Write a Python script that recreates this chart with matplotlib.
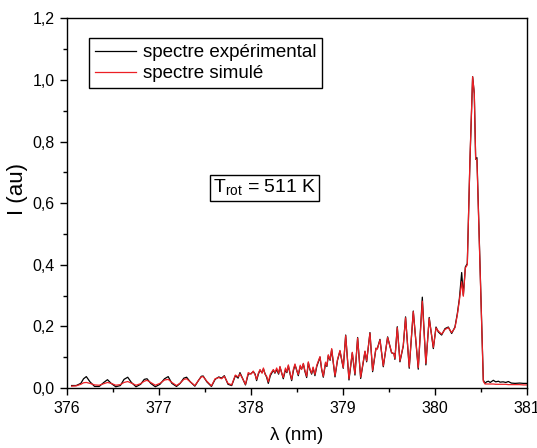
import matplotlib
matplotlib.use("Agg")
import matplotlib.pyplot as plt
from matplotlib.ticker import MultipleLocator, FuncFormatter

plt.rcParams['font.family'] = ['Liberation Sans', 'DejaVu Sans']
plt.rcParams['mathtext.fontset'] = 'custom'
plt.rcParams['mathtext.rm'] = 'Liberation Sans'

# wavelength grid (nm)
lam = [376.05, 376.10, 376.15, 376.18, 376.21, 376.25, 376.30, 376.35, 376.40, 376.44,
       376.48, 376.53, 376.58, 376.62, 376.66, 376.70, 376.75, 376.80, 376.84, 376.87,
       376.91, 376.96, 377.01, 377.06, 377.10, 377.14, 377.19, 377.23, 377.27, 377.30,
       377.34, 377.39, 377.43, 377.46, 377.48, 377.52, 377.57, 377.61, 377.65, 377.68,
       377.71, 377.75, 377.79, 377.83, 377.86, 377.88, 377.91, 377.94, 377.97, 378.00,
       378.025, 378.045, 378.061, 378.08, 378.098, 378.12, 378.135, 378.152, 378.17, 378.188,
       378.21, 378.243, 378.26, 378.279, 378.30, 378.315, 378.333, 378.351, 378.375, 378.39,
       378.406, 378.425, 378.442, 378.46, 378.478, 378.495, 378.514, 378.535, 378.55, 378.569,
       378.585, 378.605, 378.623, 378.64, 378.659, 378.675, 378.695, 378.715, 378.732, 378.75,
       378.768, 378.786, 378.81, 378.825, 378.84, 378.86, 378.877, 378.895, 378.913, 378.94,
       378.967, 379.003, 379.029, 379.065, 379.101, 379.13, 379.159, 379.192, 379.239, 379.257,
       379.293, 379.322, 379.358, 379.373, 379.402, 379.438, 379.485, 379.528, 379.554, 379.564,
       379.59, 379.619, 379.655, 379.68, 379.72, 379.764, 379.818, 379.862, 379.901, 379.937,
       379.982, 380.011, 380.036, 380.072, 380.109, 380.145, 380.181, 380.217, 380.243, 380.265,
       380.29, 380.308, 380.33, 380.351, 380.38, 380.409, 380.427, 380.442, 380.456, 380.525,
       380.543, 380.56, 380.58, 380.60, 380.634, 380.66, 380.69, 380.707, 380.74, 380.77,
       380.797, 380.83, 380.87, 380.92, 380.96, 381.0]

# experimental spectrum
I_exp = [0.008, 0.008, 0.015, 0.030, 0.037, 0.020, 0.005, 0.005, 0.018, 0.027,
         0.015, 0.004, 0.008, 0.028, 0.035, 0.018, 0.004, 0.012, 0.028, 0.030,
         0.015, 0.004, 0.012, 0.030, 0.037, 0.015, 0.005, 0.015, 0.032, 0.035,
         0.020, 0.006, 0.025, 0.038, 0.039, 0.020, 0.005, 0.028, 0.036, 0.032,
         0.040, 0.012, 0.008, 0.040, 0.032, 0.050, 0.030, 0.010, 0.045, 0.047,
         0.053, 0.045, 0.024, 0.045, 0.058, 0.050, 0.062, 0.047, 0.035, 0.015,
         0.040, 0.058, 0.048, 0.060, 0.045, 0.068, 0.050, 0.030, 0.060, 0.050,
         0.072, 0.045, 0.024, 0.055, 0.075, 0.060, 0.040, 0.070, 0.062, 0.078,
         0.055, 0.034, 0.082, 0.060, 0.045, 0.065, 0.040, 0.070, 0.085, 0.100,
         0.060, 0.035, 0.080, 0.070, 0.105, 0.090, 0.125, 0.080, 0.036, 0.090,
         0.120, 0.064, 0.172, 0.026, 0.114, 0.042, 0.164, 0.031, 0.118, 0.085,
         0.180, 0.053, 0.128, 0.128, 0.158, 0.069, 0.166, 0.114, 0.112, 0.093,
         0.199, 0.085, 0.136, 0.231, 0.064, 0.250, 0.061, 0.295, 0.075, 0.229,
         0.128, 0.198, 0.182, 0.172, 0.193, 0.198, 0.177, 0.198, 0.242, 0.290,
         0.375, 0.301, 0.393, 0.404, 0.738, 1.011, 0.957, 0.743, 0.748, 0.026,
         0.015, 0.020, 0.022, 0.018, 0.025, 0.020, 0.022, 0.019, 0.020, 0.018,
         0.021, 0.016, 0.015, 0.016, 0.015, 0.015]

# simulated spectrum
I_sim = [0.006, 0.007, 0.012, 0.017, 0.018, 0.015, 0.010, 0.009, 0.014, 0.018,
         0.015, 0.009, 0.011, 0.018, 0.021, 0.016, 0.009, 0.014, 0.022, 0.025,
         0.018, 0.009, 0.015, 0.026, 0.028, 0.018, 0.008, 0.016, 0.028, 0.030,
         0.020, 0.008, 0.025, 0.036, 0.037, 0.022, 0.007, 0.030, 0.034, 0.030,
         0.038, 0.015, 0.010, 0.042, 0.036, 0.046, 0.030, 0.012, 0.050, 0.045,
         0.055, 0.042, 0.028, 0.048, 0.060, 0.048, 0.065, 0.045, 0.038, 0.020,
         0.045, 0.060, 0.050, 0.065, 0.048, 0.070, 0.048, 0.034, 0.065, 0.052,
         0.075, 0.048, 0.028, 0.060, 0.078, 0.058, 0.044, 0.074, 0.060, 0.080,
         0.058, 0.038, 0.085, 0.062, 0.048, 0.068, 0.044, 0.074, 0.088, 0.102,
         0.062, 0.038, 0.084, 0.072, 0.108, 0.092, 0.128, 0.082, 0.040, 0.092,
         0.122, 0.066, 0.170, 0.030, 0.116, 0.046, 0.162, 0.035, 0.120, 0.088,
         0.178, 0.057, 0.130, 0.126, 0.156, 0.072, 0.164, 0.116, 0.110, 0.096,
         0.196, 0.088, 0.138, 0.228, 0.068, 0.248, 0.066, 0.282, 0.080, 0.226,
         0.132, 0.195, 0.185, 0.175, 0.190, 0.196, 0.180, 0.196, 0.238, 0.285,
         0.345, 0.298, 0.390, 0.400, 0.745, 1.011, 0.955, 0.745, 0.740, 0.022,
         0.013, 0.013, 0.013, 0.013, 0.013, 0.012, 0.012, 0.012, 0.012, 0.012,
         0.011, 0.011, 0.011, 0.011, 0.010, 0.010]

xticks = [376, 377, 378, 379, 380, 381]
yticks = [0.0, 0.2, 0.4, 0.6, 0.8, 1.0, 1.2]

fig = plt.figure(figsize=(5.37, 4.48), dpi=100)
ax = fig.add_axes([67/537, (448-388)/448, 460/537, (388-18.5)/448])

ax.plot(lam, I_exp, color='black', lw=0.9, label='spectre expérimental')
ax.plot(lam, I_sim, color='#ec1f24', lw=0.9, label='spectre simulé')

ax.set_xlim(376, 381)
ax.set_ylim(0, 1.2)
ax.set_xticks(xticks)
ax.set_yticks(yticks)
ax.xaxis.set_minor_locator(MultipleLocator(0.5))
ax.yaxis.set_minor_locator(MultipleLocator(0.1))
ax.yaxis.set_major_formatter(FuncFormatter(lambda v, p: f"{v:.1f}".replace('.', ',')))
ax.tick_params(which='major', direction='out', length=5, width=1, labelsize=11.5, pad=4)
ax.tick_params(which='minor', direction='out', length=3, width=1)
ax.tick_params(top=False, right=False)
for s in ax.spines.values():
    s.set_linewidth(1)

ax.set_xlabel('λ (nm)', fontsize=13.5, labelpad=8)
ax.set_ylabel('I (au)', fontsize=16)
ax.yaxis.set_label_coords((28-67)/460, (388-189)/369.5)

leg = ax.legend(loc='upper left', bbox_to_anchor=(0.048, 0.946), fontsize=13.5,
                frameon=True, fancybox=False, edgecolor='black', framealpha=1,
                borderpad=0.3, labelspacing=0.2, handlelength=2.2, handletextpad=0.35,
                borderaxespad=0)
leg.get_frame().set_linewidth(1)

ax.text(0.429, 0.542, r'T$_{\mathregular{rot}}$ = 511 K', transform=ax.transAxes,
        fontsize=14, ha='center', va='center',
        bbox=dict(boxstyle='square,pad=0.15', facecolor='white', edgecolor='black', lw=1))

fig.savefig('out.png', dpi=100)
